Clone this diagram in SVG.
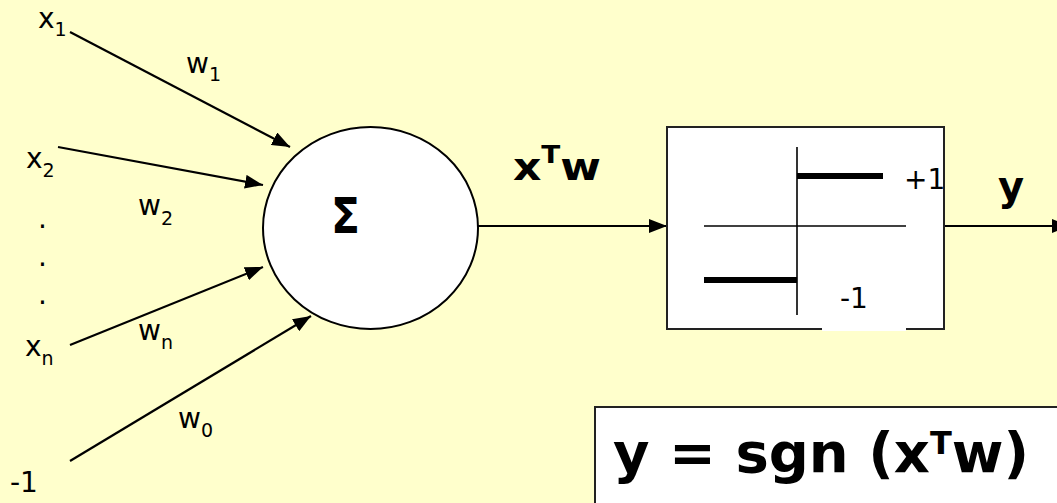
<svg xmlns="http://www.w3.org/2000/svg" width="1057" height="503" viewBox="0 0 1057 503">
<defs>
<marker id="arr" markerUnits="userSpaceOnUse" markerWidth="18" markerHeight="14" refX="18" refY="7" orient="auto">
<path d="M0,0 L18,7 L0,14 z" fill="#000"/>
</marker>
<style>
text{font-family:"DejaVu Sans","Verdana",sans-serif;fill:#000}
.lbl{font-size:28px}
.sub{font-size:19px}
.b{font-weight:bold}
.conn{stroke:#000;fill:none}
.edge{stroke:#000;stroke-width:2.2;fill:none;marker-end:url(#arr)}
</style>
</defs>
<rect x="0" y="0" width="1057" height="503" fill="#FFFFCC"/>

<g id="inputs">
<text class="lbl" x="38" y="28">x<tspan class="sub" dy="8">1</tspan></text>
<text class="lbl" x="26" y="168">x<tspan class="sub" dy="9">2</tspan></text>
<text class="lbl" x="38" y="228">.</text>
<text class="lbl" x="38" y="266">.</text>
<text class="lbl" x="38" y="304">.</text>
<text class="lbl" x="25" y="356">x<tspan class="sub" dy="9">n</tspan></text>
<text class="lbl" x="10" y="492">-1</text>
</g>

<g id="weights">
<text class="lbl" x="186" y="73">w<tspan class="sub" dy="8">1</tspan></text>
<text class="lbl" x="138" y="215">w<tspan class="sub" dy="10">2</tspan></text>
<text class="lbl" x="138" y="340">w<tspan class="sub" dy="9">n</tspan></text>
<text class="lbl" x="178" y="428">w<tspan class="sub" dy="9">0</tspan></text>
</g>

<g id="connectors">
<line class="edge" x1="70" y1="32" x2="290" y2="147"/>
<line class="edge" x1="58" y1="147" x2="263" y2="185"/>
<line class="edge" x1="70" y1="345" x2="263" y2="267"/>
<line class="edge" x1="70" y1="461" x2="311" y2="316"/>
<line class="edge" x1="478" y1="226" x2="667" y2="226"/>
<line class="edge" x1="944" y1="226" x2="1070" y2="226"/>
</g>

<g id="sum">
<ellipse cx="370.5" cy="228" rx="107.5" ry="101" fill="#fff" stroke="#000" stroke-width="2"/>
<text class="b" x="331" y="233" font-size="50" textLength="29" lengthAdjust="spacingAndGlyphs">Σ</text>
</g>

<g id="net-label">
<text class="b" x="513" y="180" font-size="38" textLength="88" lengthAdjust="spacingAndGlyphs">x<tspan font-size="24" dy="-17">T</tspan><tspan dy="17">w</tspan></text>
</g>

<g id="activation">
<rect x="667" y="127" width="277" height="202" fill="#fff" stroke="#222" stroke-width="2"/>
<line class="conn" x1="797" y1="147" x2="797" y2="315" stroke-width="1.6"/>
<line class="conn" x1="704" y1="226" x2="906" y2="226" stroke-width="1.6"/>
<line x1="797" y1="176" x2="883" y2="176" stroke="#000" stroke-width="6"/>
<line x1="704" y1="280" x2="797" y2="280" stroke="#000" stroke-width="6"/>
<rect x="822" y="296" width="84" height="35" fill="#fff"/>
<text class="lbl" x="904" y="189">+1</text>
<text class="lbl" x="840" y="308">-1</text>
</g>

<g id="output-label">
<text class="b" x="998" y="200" font-size="40">y</text>
</g>

<g id="formula">
<rect x="595" y="407" width="500" height="150" fill="#fff" stroke="#222" stroke-width="2"/>
<text class="b" x="613" y="472" font-size="56">y = sgn (x<tspan font-size="32" dy="-18">T</tspan><tspan dy="18">w)</tspan></text>
</g>
</svg>
